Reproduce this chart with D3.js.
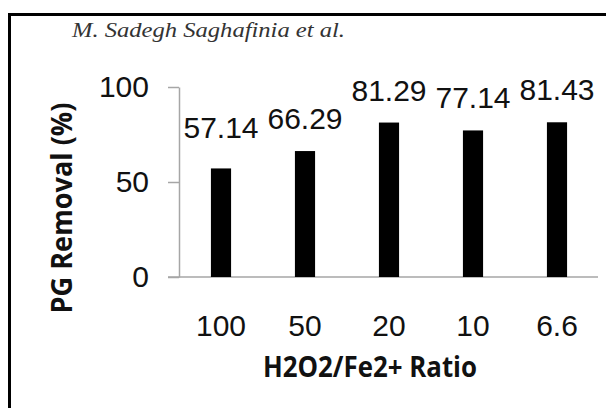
<!DOCTYPE html>
<html lang="en">
<head>
  <meta charset="UTF-8">
  <title>PG Removal</title>
  <style>
    body { margin: 0; background: #fff; }
  </style>
</head>
<body>
  <svg id="svg" width="606" height="408"></svg>
  <script src="https://d3js.org/d3.v7.min.js"></script>
  <script>
    const ratios = ['100', '50', '20', '10', '6.6']
    const removal = [57.14, 66.29, 81.29, 77.14, 81.43]
    const yTicks = [0, 50, 100]

    const svg = d3.select('#svg')

    // frame lines (top + left only, the rest is cropped)
    svg.append('line')
      .attr('x1', 8).attr('x2', 606).attr('y1', 14.5).attr('y2', 14.5)
      .attr('stroke', '#000').attr('stroke-width', 3)
    svg.append('line')
      .attr('x1', 9.5).attr('x2', 9.5).attr('y1', 13).attr('y2', 408)
      .attr('stroke', '#000').attr('stroke-width', 3)

    svg.append('text')
      .text('M. Sadegh Saghafinia et al.')
      .attr('x', 72)
      .attr('y', 37)
      .attr('textLength', 273)
      .attr('lengthAdjust', 'spacingAndGlyphs')
      .style('font-family', '"Liberation Serif", "DejaVu Serif", serif')
      .style('font-style', 'italic')
      .style('font-size', '20px')
      .style('fill', '#333')

    const xScale = d3.scaleBand()
      .domain(ratios)
      .range([179, 599])
      .paddingInner(0.76)
      .paddingOuter(0.38)

    const yScale = d3.scaleLinear()
      .domain([0, 100])
      .range([277, 87])

    const data = ratios.map((r, i) => ({ ratio: r, value: removal[i] }))

    // y axis
    const yAxis = svg.append('g')
      .attr('transform', 'translate(179,0)')
      .call(d3.axisLeft(yScale).tickValues(yTicks).tickSize(11).tickPadding(19).tickSizeOuter(0))
    yAxis.select('.domain').attr('stroke', '#a6a6a6').attr('stroke-width', 1.5)
    yAxis.selectAll('.tick line').attr('stroke', '#a6a6a6').attr('stroke-width', 1.5)
    yAxis.selectAll('.tick text')
      .style('font-family', '"Liberation Sans", Arial, sans-serif')
      .style('font-size', '30px')
      .style('fill', '#111')

    // x axis baseline + labels
    const xAxis = svg.append('g')
      .attr('transform', 'translate(0,277)')
      .call(d3.axisBottom(xScale).tickSize(0).tickPadding(38).tickSizeOuter(0))
    xAxis.select('.domain').remove()
    xAxis.append('line')
      .attr('x1', 168).attr('x2', 598)
      .attr('stroke', '#a6a6a6').attr('stroke-width', 1.5)
    xAxis.selectAll('.tick text')
      .style('font-family', '"Liberation Sans", Arial, sans-serif')
      .style('font-size', '30px')
      .style('fill', '#111')

    // bars
    svg.append('g')
      .selectAll('rect')
      .data(data)
      .enter()
      .append('rect')
      .attr('x', d => xScale(d.ratio))
      .attr('y', d => yScale(d.value))
      .attr('width', xScale.bandwidth())
      .attr('height', d => yScale(0) - yScale(d.value))
      .attr('fill', '#000')

    // value labels (first one sits a bit higher in the original)
    const labelLift = [8, 0, 0, 0, 0]
    svg.append('g')
      .selectAll('text')
      .data(data)
      .enter()
      .append('text')
      .text(d => d.value.toFixed(2))
      .attr('x', d => xScale(d.ratio) + xScale.bandwidth() / 2)
      .attr('y', (d, i) => yScale(d.value) - 22 - labelLift[i])
      .attr('text-anchor', 'middle')
      .style('font-family', '"Liberation Sans", Arial, sans-serif')
      .style('font-size', '30px')
      .style('fill', '#111')

    // axis titles
    svg.append('text')
      .text('H2O2/Fe2+ Ratio')
      .attr('x', 263)
      .attr('y', 377)
      .attr('textLength', 214)
      .attr('lengthAdjust', 'spacingAndGlyphs')
      .style('font-family', '"Open Sans", sans-serif')
      .style('font-weight', 'bold')
      .style('font-size', '29px')
      .style('fill', '#111')

    svg.append('text')
      .text('PG Removal (%)')
      .attr('transform', 'translate(72,208) rotate(-90)')
      .attr('text-anchor', 'middle')
      .attr('textLength', 211)
      .attr('lengthAdjust', 'spacingAndGlyphs')
      .style('font-family', '"Open Sans", sans-serif')
      .style('font-weight', 'bold')
      .style('font-size', '29px')
      .style('fill', '#111')
  </script>
</body>
</html>
